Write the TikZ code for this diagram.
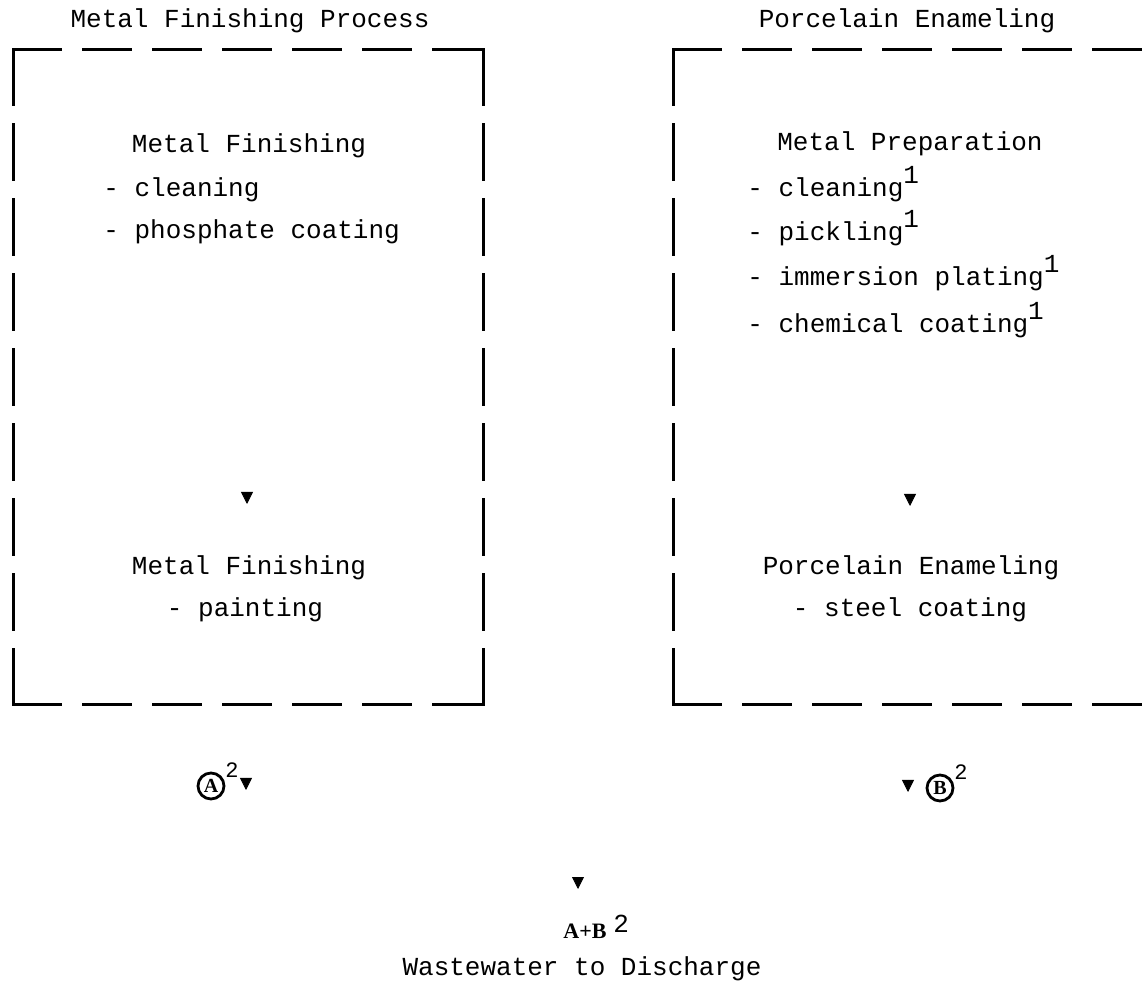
\documentclass[tikz,border=0pt]{standalone}
\usepackage{fontspec}
\setmainfont{Liberation Mono}
\newfontfamily\labelfont{Liberation Serif}
\usetikzlibrary{arrows.meta, positioning}
\newcommand{\fnote}[1]{\raisebox{6.5pt}{#1}}
\tikzset{
  every picture/.style={line cap=rect, line join=miter},
  every node/.style={font=\fontsize{13}{15}\selectfont, text=black, inner sep=0pt},
  heading/.style={anchor=base},
  item/.style={anchor=base west},
  frameH/.style={draw=black, line width=1.5pt, dash pattern=on 23.5pt off 11.5pt},
  frameV/.style={draw=black, line width=1.5pt, dash pattern=on 27.5pt off 10pt},
  flow/.style={draw=black, line cap=butt, -{Triangle[length=6pt, width=6pt]}},
  stream/.style={circle, draw=black, line width=1.4pt, minimum size=13pt,
    font=\labelfont\bfseries\fontsize{10}{10}\selectfont},
  mark2/.style={font=\fontsize{11}{11}\selectfont}
}

\begin{document}
\begin{tikzpicture}[x=0.5pt, y=-0.5pt]
  \useasboundingbox (0,0) rectangle (1142,994);
  \clip (0,0) rectangle (1142,994);

  % dashed boundaries
  \draw[frameH] (13,50) -- (483,50);
  \draw[frameH] (13,705) -- (483,705);
  \draw[frameV] (13,50) -- (13,705);
  \draw[frameV] (483,50) -- (483,705);
  \draw[frameH] (673,50) -- (1170,50);
  \draw[frameH] (673,705) -- (1170,705);
  \draw[frameV] (673,50) -- (673,705);

  \node[heading] (mfTitle) at (250,28) {Metal Finishing Process};
  \node[heading] (peTitle) at (907,28) {Porcelain Enameling};

  % metal finishing
  \node[heading] (mfHead) at (249,153) {Metal Finishing};
  \node[item] (mfClean) at (103,197) {- cleaning};
  \node[item] (mfPhos) at (103,239) {- phosphate coating};
  \node[heading] (mfPaintHead) at (249,575) {Metal Finishing};
  \node[heading] (mfPaint) at (245,617) {- painting};

  % porcelain enameling
  \node[heading] (peHead) at (910,151) {Metal Preparation};
  \node[item] (peClean) at (747,197) {- cleaning\fnote{1}};
  \node[item] (pePickle) at (747,241) {- pickling\fnote{1}};
  \node[item] (peImmerse) at (747,286) {- immersion plating\fnote{1}};
  \node[item] (peChem) at (747,333) {- chemical coating\fnote{1}};
  \node[heading] (peEnamHead) at (911,575) {Porcelain Enameling};
  \node[heading] (peSteel) at (910,617) {- steel coating};

  % waste streams
  \node[stream] (strA) at (211,786) {A};
  \node[mark2, anchor=south west] (strA2) at (225,778) {2};
  \node[stream] (strB) at (940,788) {B};
  \node[mark2, anchor=south west] (strB2) at (954,780) {2};

  \node[anchor=base, font=\labelfont\bfseries\fontsize{11}{11}\selectfont] (sumAB) at (585,938) {A+B};
  \node[anchor=base west, xshift=3pt, yshift=3pt] (sumAB2) at (sumAB.base east) {2};
  \node[heading] (discharge) at (582,975) {Wastewater to Discharge};

  \coordinate (mfUp) at (247,492);
  \coordinate (mfDown) at (247,504);
  \coordinate (peUp) at (910,494);
  \coordinate (peDown) at (910,506);
  \coordinate (aUp) at (246,778);
  \coordinate (aDown) at (246,790);
  \coordinate (bUp) at (908,780);
  \coordinate (bDown) at (908,792);
  \coordinate (outUp) at (578,877);
  \coordinate (outDown) at (578,889);

  \draw[flow] (mfUp) -- (mfDown);
  \draw[flow] (peUp) -- (peDown);
  \draw[flow] (aUp) -- (aDown);
  \draw[flow] (bUp) -- (bDown);
  \draw[flow] (outUp) -- (outDown);
\end{tikzpicture}
\end{document}
